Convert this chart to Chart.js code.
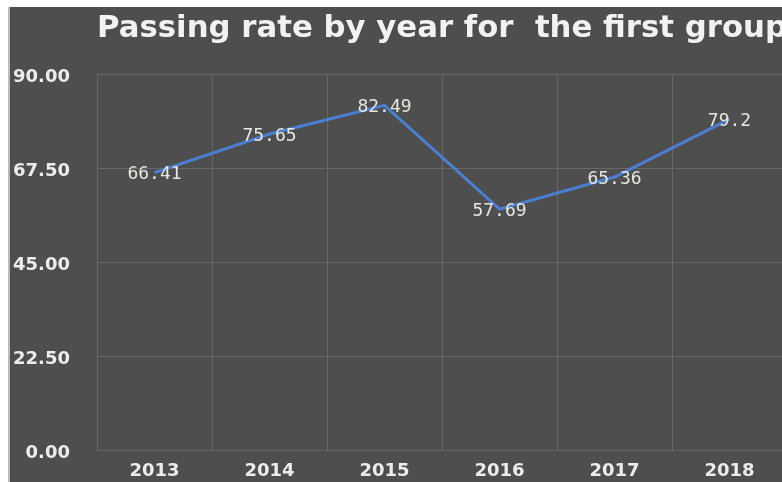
<!DOCTYPE html>
<html>
<head>
<meta charset="utf-8">
<script src="https://cdn.jsdelivr.net/npm/chart.js@4/dist/chart.umd.min.js"></script>
<style>
  html, body { margin: 0; padding: 0; background: #ffffff; overflow: hidden; width: 782px; height: 482px; }
  #wrap { position: absolute; left: 8px; top: 7px; width: 780px; height: 485px; background: #4e4e4e; border-left: 2px solid #bcbcbc; }
  canvas { display: block; }
</style>
</head>
<body>
<div id="wrap"><canvas id="c" width="780" height="485"></canvas></div>
<script>
const titleText = 'Passing rate by year for  the first group';
const years = ['2013', '2014', '2015', '2016', '2017', '2018'];
const passingRates = [66.41, 75.65, 82.49, 57.69, 65.36, 79.2];
const rateLabels = ['66.41', '75.65', '82.49', '57.69', '65.36', '79.2'];
const yTickValues = [0, 22.5, 45, 67.5, 90];
const yTickLabels = ['0.00', '22.50', '45.00', '67.50', '90.00'];

const gridColor = '#676767';
const textColor = '#ececec';

const dataLabelPlugin = {
  id: 'dataLabels',
  afterDatasetsDraw(chart) {
    const ctx = chart.ctx;
    const meta = chart.getDatasetMeta(0);
    ctx.save();
    ctx.font = '18px "DejaVu Sans Mono"';
    ctx.fillStyle = '#e6e6de';
    ctx.textAlign = 'center';
    ctx.textBaseline = 'middle';
    meta.data.forEach((pt, i) => {
      ctx.fillText(rateLabels[i], pt.x, pt.y + 2);
    });
    ctx.restore();
  }
};

new Chart(document.getElementById('c'), {
  type: 'line',
  data: {
    labels: years,
    datasets: [{
      data: passingRates,
      borderColor: '#4a7fd1',
      borderWidth: 3,
      pointRadius: 0,
      pointHoverRadius: 0,
      tension: 0,
      fill: false
    }]
  },
  options: {
    responsive: false,
    animation: false,
    layout: { padding: { top: 0, left: 0, right: 3, bottom: 0 } },
    plugins: {
      legend: { display: false },
      tooltip: { enabled: false },
      title: {
        display: true,
        text: titleText,
        align: 'start',
        fullSize: false,
        color: '#f2f2f2',
        font: { family: '"DejaVu Sans"', size: 31, weight: 'bold', lineHeight: 1.2 },
        padding: { top: 3, bottom: 26.8 }
      }
    },
    scales: {
      x: {
        offset: true,
        grid: { offset: true, color: gridColor, lineWidth: 1, drawTicks: false },
        border: { display: true, color: gridColor },
        ticks: {
          color: textColor,
          padding: 10,
          font: { family: '"DejaVu Sans"', size: 18, weight: 'bold' }
        }
      },
      y: {
        min: 0,
        max: 90,
        afterBuildTicks(scale) { scale.ticks = yTickValues.map(v => ({ value: v })); },
        grid: { color: gridColor, lineWidth: 1, drawTicks: false },
        border: { display: true, color: gridColor },
        ticks: {
          color: textColor,
          padding: 27,
          labelOffset: 3,
          font: { family: '"DejaVu Sans"', size: 18, weight: 'bold' },
          callback(value) {
            const idx = yTickValues.indexOf(value);
            return idx >= 0 ? yTickLabels[idx] : '';
          }
        },
        afterFit(scale) { scale.width = 87; }
      }
    }
  },
  plugins: [dataLabelPlugin]
});
</script>
</body>
</html>
